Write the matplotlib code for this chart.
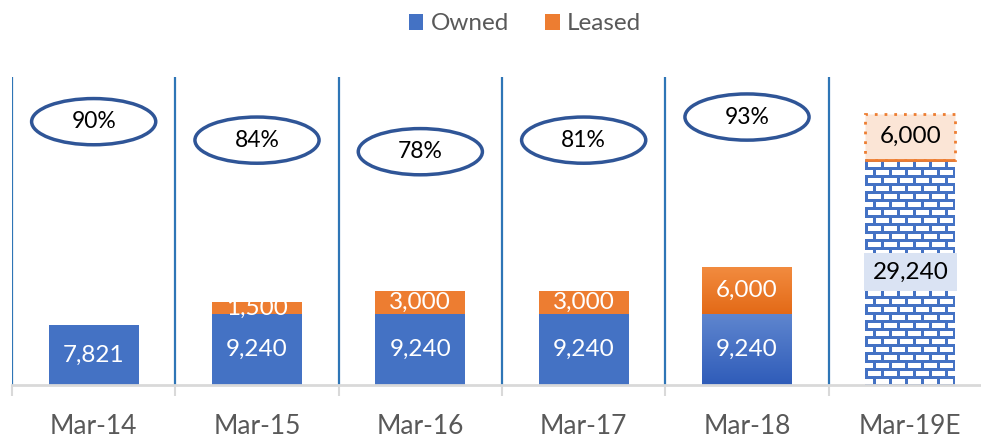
import numpy as np
import matplotlib
matplotlib.use("Agg")
import matplotlib.pyplot as plt
from matplotlib.patches import Ellipse, Rectangle, Patch
from matplotlib.colors import to_rgb

plt.rcParams['font.family'] = ['Lato', 'DejaVu Sans']

categories = ["Mar-14", "Mar-15", "Mar-16", "Mar-17", "Mar-18", "Mar-19E"]
owned = [7821, 9240, 9240, 9240, 9240, 29240]
leased = [0, 1500, 3000, 3000, 6000, 6000]
pct_labels = ["90%", "84%", "78%", "81%", "93%"]
pct_y = [34200, 31800, 30300, 31800, 34800]   # ellipse vertical placement (layout)

BLUE = "#4472c4"
ORANGE = "#ed7d31"
GRID_BLUE = "#2e75b6"
GRAY_TXT = "#595959"

W, H = 981, 440
fig = plt.figure(figsize=(W / 100, H / 100), dpi=100)
ax = fig.add_axes([12 / W, (H - 385) / H, 980 / W, 308 / H])
ax.set_xlim(-0.5, len(categories) - 0.5)
ax.set_ylim(0, 40000)
ax.patch.set_alpha(0)

x = np.arange(len(categories))
bw = 0.55
n = len(categories)

# regular bars (all but last and Mar-18)
for i in range(n - 1):
    if i == 4:
        continue
    ax.bar(x[i], owned[i], bw, color=BLUE, zorder=3)
    if leased[i]:
        ax.bar(x[i], leased[i], bw, bottom=owned[i], color=ORANGE, zorder=3)

fig.canvas.draw()

def gradient_bar(xc, y0, h, c_top, c_bot):
    t = np.linspace(0, 1, 64)[:, None]
    ct, cb = np.array(to_rgb(c_top)), np.array(to_rgb(c_bot))
    img = (ct[None, None, :] * (1 - t[..., None]) + cb[None, None, :] * t[..., None])
    img = np.repeat(img, 2, axis=1)
    ax.imshow(img, extent=(xc - bw / 2, xc + bw / 2, y0, y0 + h), aspect='auto',
              interpolation='bilinear', zorder=3)

# Mar-18 gradient bars
gradient_bar(x[4], 0, owned[4], "#5f86cf", "#2f5cb9")
gradient_bar(x[4], owned[4], leased[4], "#f28b3f", "#e36a17")

# Mar-19E brick pattern owned bar
i = n - 1
x0, x1 = x[i] - bw / 2, x[i] + bw / 2
p0 = ax.transData.transform((x0, 0))
p1 = ax.transData.transform((x1, owned[i]))
wpx, hpx = int(round(p1[0] - p0[0])), int(round(p1[1] - p0[1]))
mortar = np.array(to_rgb(BLUE))
brick = np.array([1.0, 1.0, 1.0])
img = np.tile(mortar, (hpx, wpx, 1))
row_h, brick_w, m = 8, 16, 3
for r in range(0, hpx // row_h + 1):
    ys = r * row_h + m
    ye = min((r + 1) * row_h, hpx)
    off = 0 if r % 2 == 0 else brick_w // 2
    for c in range(-1, wpx // brick_w + 2):
        xs = c * brick_w + off + m
        xe = (c + 1) * brick_w + off
        xs_, xe_ = max(xs, 0), min(xe, wpx)
        if xs_ < xe_ and ys < ye:
            img[ys:ye, xs_:xe_] = brick
ax.imshow(img, extent=(x0, x1, 0, owned[i]), aspect='auto', interpolation='nearest', zorder=3)
ax.add_patch(Rectangle((x0, owned[i]), bw, leased[i], facecolor="#fbe5d6",
                       edgecolor=ORANGE, linestyle=(0, (1, 2.5)), linewidth=2, zorder=3))
ax.plot([x0, x1], [owned[i], owned[i]], color=ORANGE, lw=2, zorder=4, solid_capstyle='butt')

# value labels
for k in range(n):
    tc = "black" if k == n - 1 else "white"
    kw = {}
    if k == n - 1:
        kw = dict(bbox=dict(boxstyle="square,pad=0.35", fc="#dae3f3", ec="none"))
    ax.text(x[k], owned[k] / 2, f"{owned[k]:,}", ha='center', va='center', color=tc,
            fontsize=17.5, zorder=6, **kw)
    if leased[k]:
        ax.text(x[k], owned[k] + leased[k] / 2, f"{leased[k]:,}", ha='center', va='center',
                color=tc, fontsize=17.5, zorder=6)

# ellipses with percentages
for k, (lab, yy) in enumerate(zip(pct_labels, pct_y)):
    ax.add_patch(Ellipse((x[k], yy), 0.76, 6000, fill=False, edgecolor="#2f5597",
                         linewidth=2.5, zorder=5))
    ax.text(x[k], yy, lab, ha='center', va='center', fontsize=16.5, color="black", zorder=6)

# separators
for s in np.arange(-0.5, n - 0.5, 1.0):
    ax.axvline(s, color=GRID_BLUE, lw=1.6, zorder=2)

for sp in ["top", "right", "left"]:
    ax.spines[sp].set_visible(False)
ax.spines["bottom"].set_color("#d9d9d9")
ax.spines["bottom"].set_linewidth(2)
ax.spines["bottom"].set_zorder(4)
ax.set_yticks([])
ax.set_xticks(np.arange(-0.5, n, 1.0), minor=False)
ax.set_xticklabels([])
ax.tick_params(axis='x', which='major', length=8, width=1.5, color="#d9d9d9")
ax.set_xticks(x, minor=True)
ax.set_xticklabels(categories, minor=True)
ax.tick_params(axis='x', which='minor', length=0, pad=21, labelsize=19, labelcolor=GRAY_TXT)

handles = [Patch(facecolor=BLUE, label="Owned"), Patch(facecolor=ORANGE, label="Leased")]
fig.legend(handles=handles, loc='center', bbox_to_anchor=(525 / W, 1 - 24 / H), ncol=2,
           frameon=False, fontsize=17.5, labelcolor=GRAY_TXT, handlelength=0.6,
           handleheight=0.6, handletextpad=0.3, columnspacing=1.5)

fig.savefig("out.png", dpi=100)
